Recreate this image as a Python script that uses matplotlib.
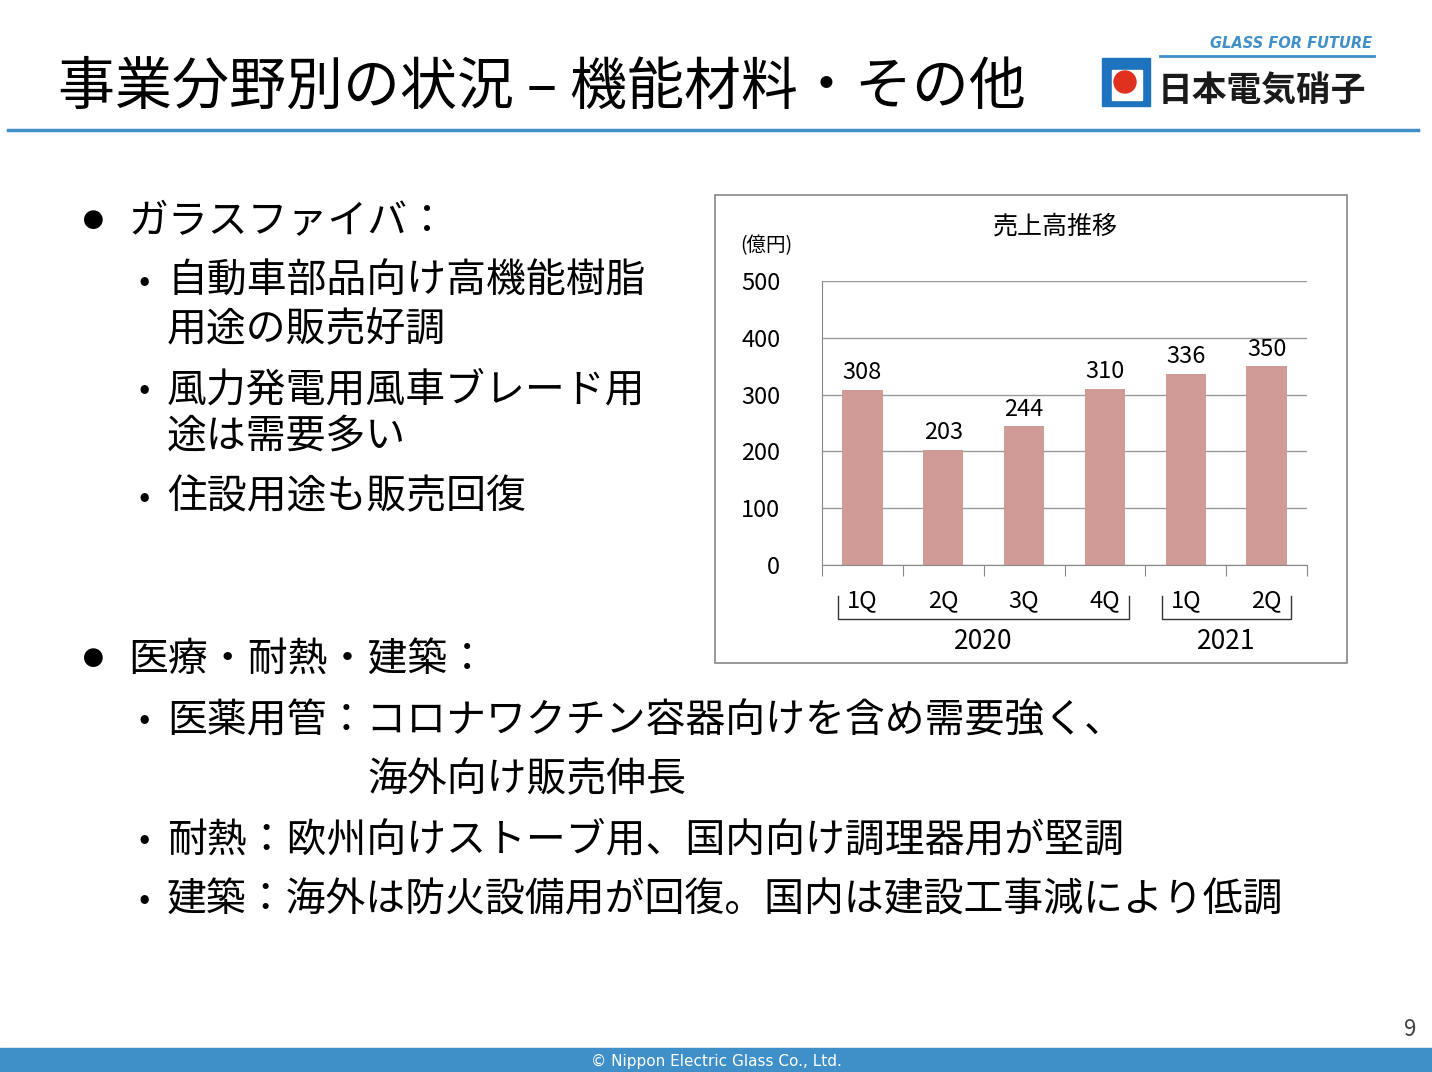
import matplotlib
matplotlib.use("Agg")
import matplotlib.pyplot as plt
import matplotlib.patches as mpatches
from matplotlib.transforms import blended_transform_factory

plt.rcParams["font.family"] = "Noto Sans CJK JP"

quarters = ["1Q", "2Q", "3Q", "4Q", "1Q", "2Q"]
sales = [308, 203, 244, 310, 336, 350]
years = ["2020", "2021"]
year_spans = [(0, 3), (4, 5)]

W, H = 1432, 1072
fig = plt.figure(figsize=(W / 100, H / 100), dpi=100)

def fx(x):
    return x / W

def fy(y):
    return 1 - y / H

blue = "#3F8FC8"
BODY = 28.7

# header
fig.text(fx(58), fy(88), "事業分野別の状況 – 機能材料・その他", fontsize=41, va="center", ha="left")
fig.add_artist(plt.Line2D([fx(8), fx(1418)], [fy(130), fy(130)], color=blue, lw=2.5))

# logo
fig.text(fx(1372), fy(43), "GLASS FOR FUTURE", fontsize=10.5, color=blue, style="italic",
         fontweight="bold", ha="right", va="center", family="DejaVu Sans")
fig.add_artist(plt.Line2D([fx(1160), fx(1374)], [fy(56), fy(56)], color=blue, lw=2))
fig.add_artist(mpatches.Rectangle((fx(1102), fy(106)), fx(48), 48 / H, color="#1E73BE", transform=fig.transFigure))
fig.add_artist(mpatches.Rectangle((fx(1112), fy(100)), fx(30), 30 / H, color="white", transform=fig.transFigure))
fig.add_artist(mpatches.Ellipse((fx(1125), fy(82)), 22 / W, 22 / H, color="#E0301E", transform=fig.transFigure))
fig.text(fx(1158), fy(91), "日本電気硝子", fontsize=25, fontweight="bold", color="#1a1a1a", va="center", ha="left")

# bullets
def head(y, s):
    fig.text(fx(83), fy(y), "●", fontsize=15, va="center", ha="left")
    fig.text(fx(128), fy(y), s, fontsize=BODY, va="center", ha="left")

def item(y, s):
    fig.text(fx(138), fy(y), "•", fontsize=24, va="center")
    fig.text(fx(167), fy(y), s, fontsize=BODY, va="center")

head(222, "ガラスファイバ：")
item(282, "自動車部品向け高機能樹脂")
fig.text(fx(167), fy(330), "用途の販売好調", fontsize=BODY, va="center")
item(390, "風力発電用風車ブレード用")
fig.text(fx(167), fy(437), "途は需要多い", fontsize=BODY, va="center")
item(497, "住設用途も販売回復")

head(660, "医療・耐熱・建築：")
item(720, "医薬用管：コロナワクチン容器向けを含め需要強く、")
fig.text(fx(367), fy(780), "海外向け販売伸長", fontsize=BODY, va="center")
item(840, "耐熱：欧州向けストーブ用、国内向け調理器用が堅調")
item(900, "建築：海外は防火設備用が回復。国内は建設工事減により低調")

# chart frame
fig.add_artist(mpatches.Rectangle((fx(715), fy(663)), fx(632), 468 / H, fill=False,
                                  edgecolor="#888888", lw=1.2, transform=fig.transFigure))
fig.text(fx(1055), fy(227), "売上高推移", fontsize=18, ha="center", va="center")
fig.text(fx(766), fy(246), "(億円)", fontsize=14, ha="center", va="center")

ax = fig.add_axes([fx(822), fy(565), fx(485), 284 / H])
x = range(len(sales))
ax.bar(x, sales, width=0.5, color="#D09B97")
for i, v in zip(x, sales):
    ax.text(i, v + 10, str(v), ha="center", va="bottom", fontsize=17)
ax.set_xlim(-0.5, len(sales) - 0.5)
ax.set_ylim(0, 500)
ax.set_yticks(range(0, 501, 100))
ax.yaxis.grid(True, color="#999999", lw=1)
ax.set_axisbelow(True)
ax.tick_params(axis="y", length=0, labelsize=17, pad=30)
ax.set_xticks([i - 0.5 for i in range(len(sales) + 1)])
ax.set_xticklabels([])
ax.tick_params(axis="x", length=8, color="#888888")
for s in ["top", "right"]:
    ax.spines[s].set_visible(False)
ax.spines["left"].set_color("#888888")
ax.spines["bottom"].set_color("#888888")

tr = blended_transform_factory(ax.transData, ax.transAxes)
for i, q in enumerate(quarters):
    ax.text(i, -0.125, q, transform=tr, ha="center", va="center", fontsize=17)
for (a, b), yr in zip(year_spans, years):
    xs = [a - 0.3, a - 0.3, b + 0.3, b + 0.3]
    ax.plot(xs, [-0.11, -0.19, -0.19, -0.11], transform=tr, color="#333333", lw=1, clip_on=False)
    ax.text((a + b) / 2, -0.27, yr, transform=tr, ha="center", va="center", fontsize=19)

# footer
fig.text(fx(1410), fy(1030), "9", fontsize=16, ha="center", va="center", color="#444444")
fig.add_artist(mpatches.Rectangle((0, 0), 1, 24 / H, color=blue, transform=fig.transFigure))
fig.text(0.5, fy(1061), "© Nippon Electric Glass Co., Ltd.", fontsize=11, color="white",
         ha="center", va="center", family="DejaVu Sans")

fig.savefig("out.png", dpi=100)
